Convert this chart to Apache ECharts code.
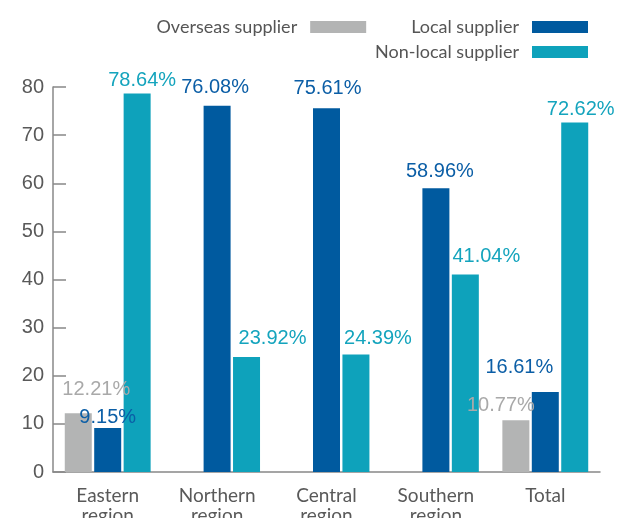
<!DOCTYPE html>
<html>
<head>
<meta charset="utf-8">
<script src="https://cdn.jsdelivr.net/npm/echarts@6/dist/echarts.min.js"></script>
<style>
  html, body { margin: 0; padding: 0; background: #fff; }
  #chart { width: 623px; height: 518px; }
</style>
</head>
<body>
<div id="chart"></div>
<script>
const categories = ['Eastern\nregion', 'Northern\nregion', 'Central\nregion', 'Southern\nregion', 'Total']
const overseas = [12.21, null, null, null, 10.77]
const local = [9.15, 76.08, 75.61, 58.96, 16.61]
const nonLocal = [78.64, 23.92, 24.39, 41.04, 72.62]

// label nudges (x, y) so labels sit where the original has them
const overseasShift = [[18, -9], [0, 0], [0, 0], [0, 0], [-15, 0]]
const localShift = [[0, 5], [-2, -3], [1, -5], [4, -2], [-26, -10]]
const nonLocalShift = [[5, 2], [26, -3], [22, -1], [21, -3], [6, 2]]

const chart = echarts.init(document.getElementById('chart'))

const makeData = (values, shifts, color) => values.map((v, i) => ({
  value: v,
  label: { offset: shifts[i], color: color }
}))

const labelBase = {
  show: true,
  position: 'top',
  distance: 5,
  fontFamily: 'Liberation Sans',
  fontSize: 20,
  formatter: p => p.value == null ? '' : p.value.toFixed(2) + '%'
}

const legendText = {
  color: '#555',
  fontFamily: 'Lato',
  fontSize: 18,
  lineHeight: 20,
  padding: [0, 8, 0, 0]
}

chart.setOption({
  animation: false,
  legend: [
    {
      data: ['Overseas supplier', 'Local supplier'],
      right: 35,
      top: 17,
      padding: 0,
      align: 'right',
      itemWidth: 56,
      itemHeight: 12,
      itemGap: 45,
      icon: 'rect',
      textStyle: legendText
    },
    {
      data: ['Non-local supplier'],
      right: 35,
      top: 42,
      padding: 0,
      align: 'right',
      itemWidth: 56,
      itemHeight: 12,
      icon: 'rect',
      textStyle: legendText
    }
  ],
  grid: {
    left: 53,
    right: 23,
    top: 87,
    bottom: 46,
    outerBoundsMode: 'none'
  },
  xAxis: {
    type: 'category',
    data: categories,
    axisLine: { lineStyle: { color: '#888', width: 1.5 } },
    axisTick: { inside: true, length: 9, lineStyle: { color: '#888', width: 1.5 } },
    axisLabel: {
      color: '#595959',
      fontFamily: 'Lato',
      fontSize: 19,
      lineHeight: 20,
      margin: 14
    }
  },
  yAxis: {
    type: 'value',
    min: 0,
    max: 80,
    interval: 10,
    splitLine: { show: false },
    axisLine: { show: true, lineStyle: { color: '#888', width: 1.5 } },
    axisTick: { show: true, inside: true, length: 13, lineStyle: { color: '#888', width: 1.5 } },
    axisLabel: {
      color: '#595959',
      fontFamily: 'Liberation Sans',
      fontSize: 20,
      margin: 9
    }
  },
  series: [
    {
      name: 'Overseas supplier',
      type: 'bar',
      barWidth: 27,
      barGap: '9%',
      itemStyle: { color: '#b3b4b4' },
      label: labelBase,
      data: makeData(overseas, overseasShift, '#a9a9a9')
    },
    {
      name: 'Local supplier',
      type: 'bar',
      barWidth: 27,
      barGap: '9%',
      itemStyle: { color: '#005a9f' },
      label: labelBase,
      data: makeData(local, localShift, '#0b5ea6')
    },
    {
      name: 'Non-local supplier',
      type: 'bar',
      barWidth: 27,
      barGap: '9%',
      itemStyle: { color: '#0ea2bb' },
      label: labelBase,
      data: makeData(nonLocal, nonLocalShift, '#14a4bd')
    }
  ]
})

window.addEventListener('resize', () => chart.resize())
</script>
</body>
</html>
